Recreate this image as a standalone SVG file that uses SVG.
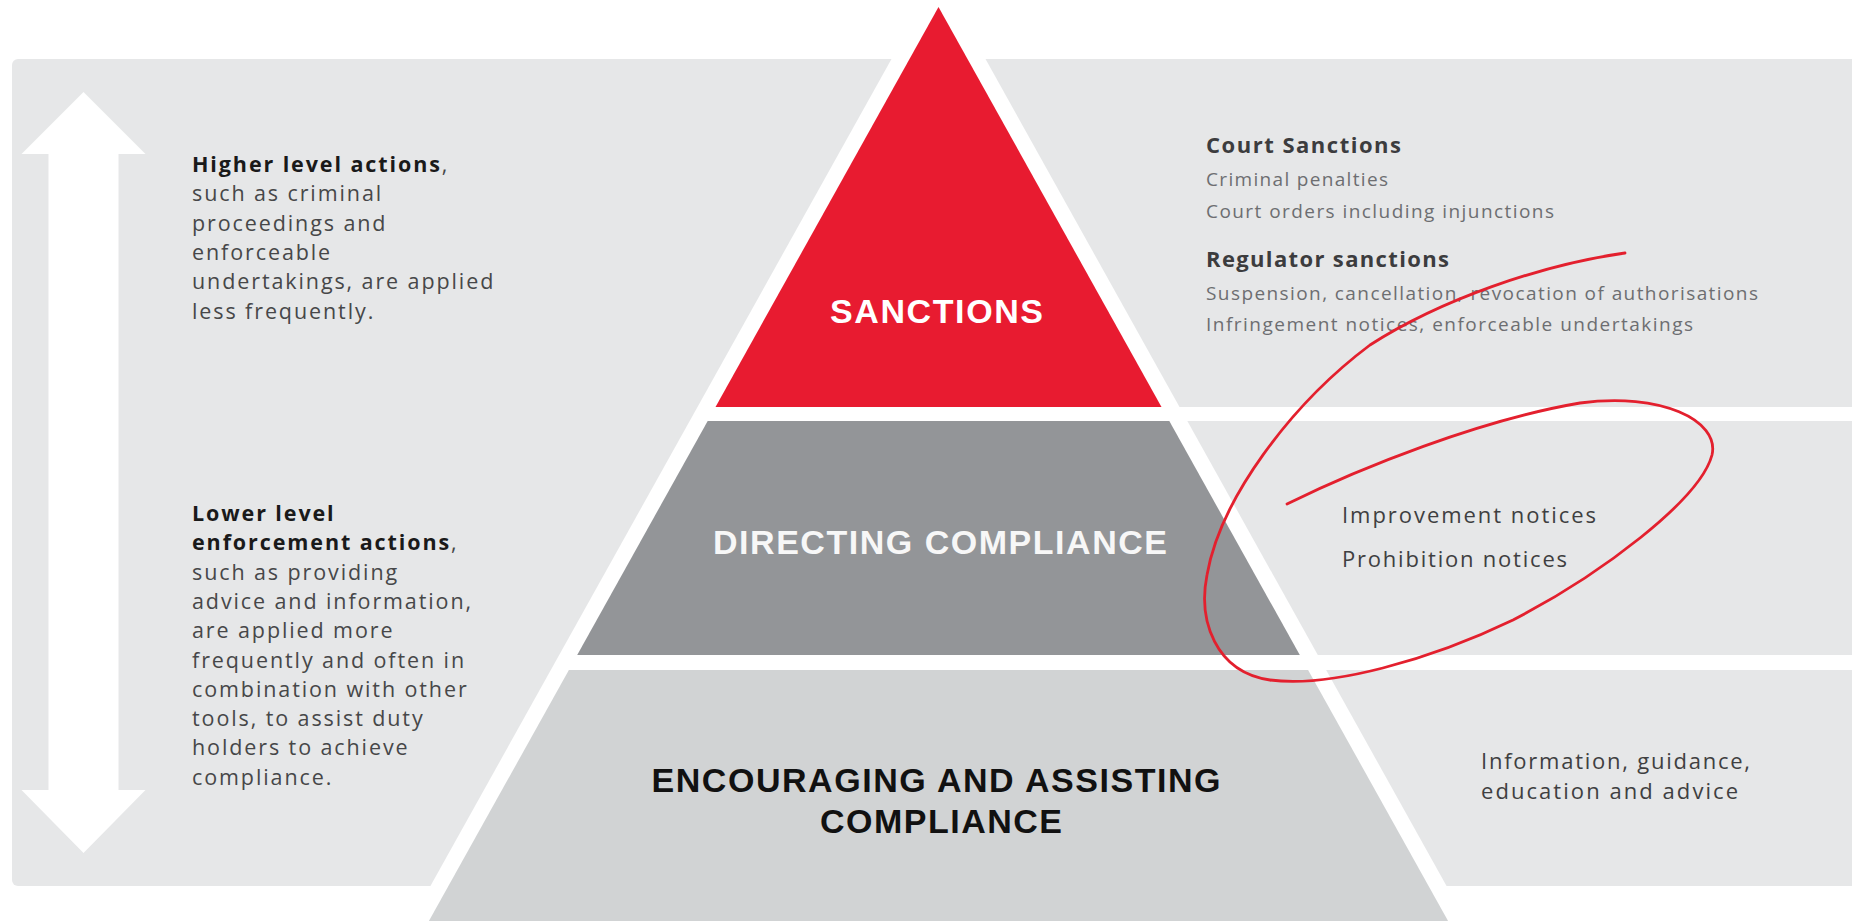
<svg xmlns="http://www.w3.org/2000/svg" width="1852" height="923" viewBox="0 0 1852 923">
<style>
text{font-family:"Open Sans","Liberation Sans",Arial,sans-serif}
.body{font-size:21.5px;fill:#474749;letter-spacing:1.9px}
.body .b{font-weight:700;fill:#1a1a1a}
.lvl{font-family:"Liberation Sans",Arial,sans-serif;font-size:34px;font-weight:700;text-anchor:middle}
.hd{font-size:22px;font-weight:700;fill:#3c3c3e}
.it{font-size:19px;fill:#6d6e71}
.it2{font-size:22px;fill:#3f3f41}
</style>
<rect x="0" y="0" width="1852" height="923" fill="#ffffff"/>
<g id="panel">
<rect x="12" y="59" width="1860" height="827" rx="6" fill="#e6e7e8"/>
<polygon points="938.5,-25.3 1467.2,923 409.8,923" fill="#ffffff"/>
<rect x="1100" y="407" width="760" height="14" fill="#ffffff"/>
<rect x="1200" y="655" width="660" height="15" fill="#ffffff"/>
</g>
<g id="arrow">
<polygon points="83.5,92 145.5,154 118.5,154 118.5,790 145.5,790 83.5,853 21.5,790 48.5,790 48.5,154 21.5,154" fill="#ffffff"/>
</g>
<g id="layer-sanctions">
<polygon points="938.5,7 1161.5,407 715.5,407" fill="#e81b30"/>
<text class="lvl" x="936.5" y="322.5" fill="#ffffff" textLength="213">SANCTIONS</text>
</g>
<g id="layer-directing">
<polygon points="707.7,421 1169.3,421 1299.8,655 577.2,655" fill="#939598"/>
<text class="lvl" x="940" y="554" fill="#f7f7f7" textLength="454">DIRECTING COMPLIANCE</text>
</g>
<g id="layer-encouraging">
<polygon points="568.9,670 1308.1,670 1448.1,921 428.9,921" fill="#d1d3d4"/>
<text class="lvl" x="936" y="792" fill="#111111" textLength="569">ENCOURAGING AND ASSISTING</text>
<text class="lvl" x="941" y="833" fill="#111111" textLength="242">COMPLIANCE</text>
</g>
<g id="text-higher">
<text class="body" x="192" y="172"><tspan class="b">Higher level actions</tspan>,</text>
<text class="body" x="192" y="201.3">such as criminal</text>
<text class="body" x="192" y="230.6">proceedings and</text>
<text class="body" x="192" y="260">enforceable</text>
<text class="body" x="192" y="289.2">undertakings, are applied</text>
<text class="body" x="192" y="318.5">less frequently.</text>
</g>
<g id="text-lower">
<text class="body" x="192" y="521"><tspan class="b">Lower level</tspan></text>
<text class="body" x="192" y="550.3"><tspan class="b">enforcement actions</tspan>,</text>
<text class="body" x="192" y="579.6">such as providing</text>
<text class="body" x="192" y="608.9">advice and information,</text>
<text class="body" x="192" y="638.2">are applied more</text>
<text class="body" x="192" y="667.5">frequently and often in</text>
<text class="body" x="192" y="696.8">combination with other</text>
<text class="body" x="192" y="726.1">tools, to assist duty</text>
<text class="body" x="192" y="755.4">holders to achieve</text>
<text class="body" x="192" y="784.7">compliance.</text>
</g>
<g id="text-sanctions">
<text class="hd" x="1206" y="153" textLength="195">Court Sanctions</text>
<text class="it" x="1206" y="186" textLength="182">Criminal penalties</text>
<text class="it" x="1206" y="217.5" textLength="348">Court orders including injunctions</text>
<text class="hd" x="1206" y="267" textLength="243">Regulator sanctions</text>
<text class="it" x="1206" y="300" textLength="552">Suspension, cancellation, revocation of authorisations</text>
<text class="it" x="1206" y="331" textLength="487">Infringement notices, enforceable undertakings</text>
</g>
<g id="text-directing">
<text class="it2" x="1342" y="523" textLength="254">Improvement notices</text>
<text class="it2" x="1342" y="567" textLength="225">Prohibition notices</text>
</g>
<g id="text-encouraging">
<text class="it2" x="1481" y="769" textLength="269">Information, guidance,</text>
<text class="it2" x="1481" y="798.5" textLength="257">education and advice</text>
</g>
<g id="annotation">
<path d="M1287,504 C1360,468 1480,420 1580,403 C1660,392 1720,420 1712,455 C1700,500 1600,575 1513,620 C1430,660 1330,688 1270,680 C1215,672 1198,620 1207,575 C1220,500 1290,405 1370,345 C1440,300 1540,265 1625,253" fill="none" stroke="#e3202e" stroke-width="2.8" stroke-linecap="round" stroke-linejoin="round"/>
</g>
</svg>
